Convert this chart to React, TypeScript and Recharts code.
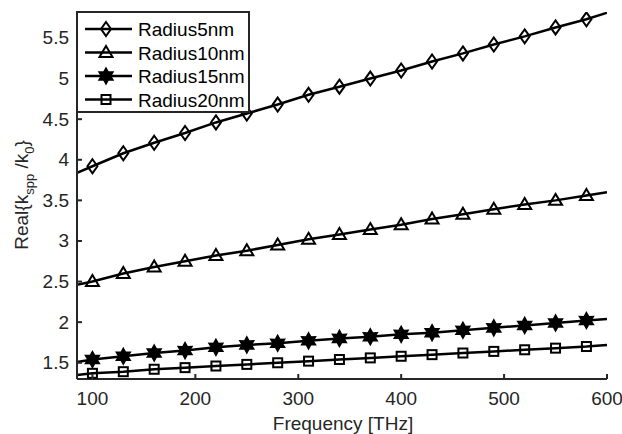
import React from "react";
import { LineChart, Line, XAxis, YAxis } from "recharts";

const freq = [85, 100, 130, 160, 190, 220, 250, 280, 310, 340, 370, 400, 430, 460, 490, 520, 550, 580, 600];
const radius5 = [3.84, 3.92, 4.08, 4.21, 4.33, 4.46, 4.57, 4.68, 4.8, 4.9, 5.0, 5.1, 5.21, 5.31, 5.42, 5.52, 5.63, 5.73, 5.81];
const radius10 = [2.46, 2.5, 2.6, 2.68, 2.75, 2.82, 2.88, 2.95, 3.02, 3.08, 3.14, 3.2, 3.27, 3.33, 3.39, 3.45, 3.5, 3.56, 3.6];
const radius15 = [1.51, 1.54, 1.58, 1.62, 1.65, 1.69, 1.72, 1.74, 1.77, 1.8, 1.82, 1.85, 1.87, 1.9, 1.93, 1.96, 1.99, 2.02, 2.04];
const radius20 = [1.35, 1.37, 1.39, 1.42, 1.44, 1.46, 1.48, 1.5, 1.52, 1.54, 1.56, 1.58, 1.6, 1.62, 1.64, 1.66, 1.68, 1.7, 1.72];

const xTicks = [100, 200, 300, 400, 500, 600];
const yTicks = [1.5, 2, 2.5, 3, 3.5, 4, 4.5, 5, 5.5];

const series = [
  { key: "r5", name: "Radius5nm", marker: "diamond" },
  { key: "r10", name: "Radius10nm", marker: "triangle" },
  { key: "r15", name: "Radius15nm", marker: "hexagram" },
  { key: "r20", name: "Radius20nm", marker: "square" },
];

const data = freq.map((f, i) => ({
  f,
  r5: radius5[i],
  r10: radius10[i],
  r15: radius15[i],
  r20: radius20[i],
  mark: f >= 100 && f <= 580,
}));

const FONT = "'Liberation Sans', Arial, Helvetica, sans-serif";
const INK = "#262626";
const FS = 19;

function Marker({ kind, cx, cy }: { kind: string; cx: number; cy: number }) {
  const common = { fill: "none", stroke: "#000", strokeWidth: 2 };
  if (kind === "diamond") {
    return <polygon {...common} points={`${cx},${cy - 7} ${cx + 5},${cy} ${cx},${cy + 7} ${cx - 5},${cy}`} />;
  }
  if (kind === "triangle") {
    return <polygon {...common} points={`${cx},${cy - 6.5} ${cx + 6.5},${cy + 4.5} ${cx - 6.5},${cy + 4.5}`} />;
  }
  if (kind === "hexagram") {
    const pts: string[] = [];
    for (let k = 0; k < 12; k++) {
      const r = k % 2 === 0 ? 8 : 4.5;
      const a = (Math.PI / 6) * k - Math.PI / 2;
      pts.push(`${cx + r * Math.cos(a)},${cy + r * Math.sin(a)}`);
    }
    return <polygon {...common} fill="#000" strokeWidth={1.5} points={pts.join(" ")} />;
  }
  return <rect {...common} x={cx - 4.5} y={cy - 4.5} width={9} height={9} />;
}

const makeDot = (kind: string) => (props: any) => {
  const { cx, cy, index, payload } = props;
  if (!payload?.mark) return <g key={`d-${kind}-${index}`} />;
  return (
    <g key={`d-${kind}-${index}`}>
      <Marker kind={kind} cx={cx} cy={cy} />
    </g>
  );
};

const BottomTick = ({ x, y, payload }: any) => (
  <g>
    <line x1={x} y1={y} x2={x} y2={y - 5} stroke={INK} strokeWidth={2} />
    <text x={x} y={y + 26} textAnchor="middle" fontSize={FS} fontFamily={FONT} fill={INK}>
      {payload.value}
    </text>
  </g>
);

const TopTick = ({ x, y }: any) => <line x1={x} y1={y} x2={x} y2={y + 5} stroke={INK} strokeWidth={2} />;

const LeftTick = ({ x, y, payload }: any) => (
  <g>
    <line x1={x} y1={y} x2={x + 5} y2={y} stroke={INK} strokeWidth={2} />
    <text x={x - 8} y={y + 6.5} textAnchor="end" fontSize={FS} fontFamily={FONT} fill={INK}>
      {payload.value}
    </text>
  </g>
);

const RightTick = ({ x, y }: any) => <line x1={x} y1={y} x2={x - 5} y2={y} stroke={INK} strokeWidth={2} />;

const LegendBox = () => (
  <svg width={174} height={102} style={{ position: "absolute", left: 76, top: 11, display: "block" }}>
    <rect x={1} y={1} width={172} height={100} fill="#fff" stroke={INK} strokeWidth={2} />
    {series.map((s, i) => {
      const cy = 18 + i * 23.5;
      return (
        <g key={s.key}>
          <line x1={9} y1={cy} x2={56} y2={cy} stroke="#000" strokeWidth={2.5} />
          <Marker kind={s.marker} cx={30} cy={cy} />
          <text x={62} y={cy + 7} fontSize={FS} fontFamily={FONT} fill="#000">
            {s.name}
          </text>
        </g>
      );
    })}
  </svg>
);

export default function App() {
  return (
    <div style={{ position: "absolute", left: 0, top: 0, width: 622, height: 434, background: "#fff" }}>
      <LineChart width={622} height={434} data={data} margin={{ top: 12, right: 15, bottom: 0, left: 0 }}>
        <XAxis
          dataKey="f"
          type="number"
          domain={[85, 600]}
          ticks={xTicks}
          interval={0}
          height={55}
          tickSize={0}
          tickMargin={0}
          tickLine={false}
          axisLine={{ stroke: INK, strokeWidth: 2 }}
          tick={<BottomTick />}
          allowDataOverflow
          label={() => (
            <text x={343} y={430} textAnchor="middle" fontSize={FS} fontFamily={FONT} fill={INK}>
              Frequency [THz]
            </text>
          )}
        />
        <XAxis
          xAxisId="top"
          orientation="top"
          dataKey="f"
          type="number"
          domain={[85, 600]}
          ticks={xTicks}
          interval={0}
          height={0}
          tickSize={0}
          tickMargin={0}
          tickLine={false}
          axisLine={{ stroke: INK, strokeWidth: 2 }}
          tick={<TopTick />}
          allowDataOverflow
        />
        <YAxis
          type="number"
          domain={[1.3, 5.82]}
          ticks={yTicks}
          interval={0}
          width={77}
          tickSize={0}
          tickMargin={0}
          tickLine={false}
          axisLine={{ stroke: INK, strokeWidth: 2 }}
          tick={<LeftTick />}
          allowDataOverflow
          label={() => (
            <text
              x={28}
              y={195}
              transform="rotate(-90, 28, 195)"
              textAnchor="middle"
              fontSize={FS}
              fontFamily={FONT}
              fill={INK}
            >
              <tspan>Real{"{"}k</tspan>
              <tspan fontSize={13} dy={6}>spp</tspan>
              <tspan dy={-6}> /k</tspan>
              <tspan fontSize={13} dy={6}>0</tspan>
              <tspan dy={-6}>{"}"}</tspan>
            </text>
          )}
        />
        <YAxis
          yAxisId="right"
          orientation="right"
          type="number"
          domain={[1.3, 5.82]}
          ticks={yTicks}
          interval={0}
          width={0}
          tickSize={0}
          tickMargin={0}
          tickLine={false}
          axisLine={{ stroke: INK, strokeWidth: 2 }}
          tick={<RightTick />}
          allowDataOverflow
        />
        {series.map((s) => (
          <Line
            key={s.key}
            dataKey={s.key}
            name={s.name}
            type="linear"
            stroke="#000"
            strokeWidth={2.5}
            dot={makeDot(s.marker)}
            activeDot={false}
            isAnimationActive={false}
          />
        ))}
      </LineChart>
      <LegendBox />
    </div>
  );
}
